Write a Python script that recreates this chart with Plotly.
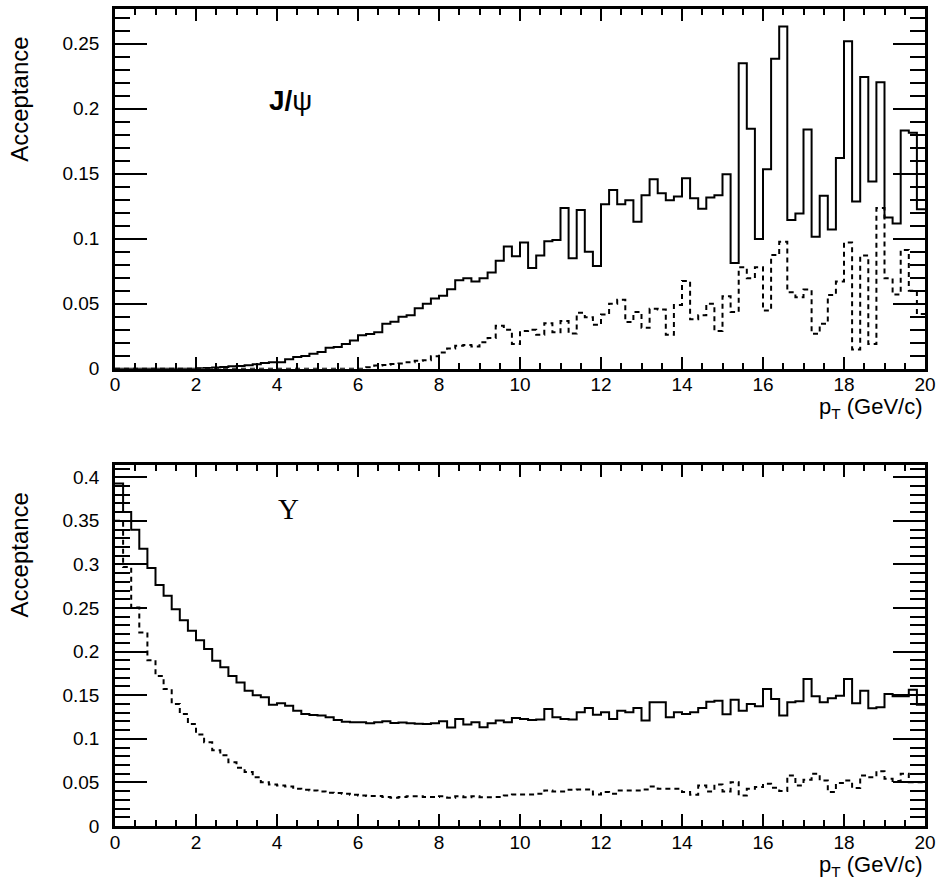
import numpy as np
import plotly.graph_objects as go

# ---------------- data ----------------
bin_low = 0.0
bin_high = 20.0
n_bins = 100

jpsi_solid = [
    0, 0, 0, 0, 0, 0, 0, 0, 0, 0,
    0.0003, 0.0005, 0.0008, 0.0013, 0.0018, 0.0020, 0.0026, 0.0033, 0.0043, 0.0050,
    0.0050, 0.0072, 0.0090, 0.0097, 0.0115, 0.0128, 0.0160, 0.0166, 0.0190, 0.0217,
    0.0256, 0.0266, 0.0280, 0.0345, 0.0360, 0.0400, 0.0410, 0.0465, 0.0500, 0.0540,
    0.0560, 0.0610, 0.0680, 0.0695, 0.0670, 0.0695, 0.0740, 0.0830, 0.0940, 0.0864,
    0.0970, 0.0775, 0.0870, 0.0980, 0.0990, 0.1235, 0.0850, 0.1220, 0.0900, 0.0790,
    0.1265, 0.1375, 0.1265, 0.1296, 0.1130, 0.1334, 0.1457, 0.1350, 0.1296, 0.1324,
    0.1465, 0.1310, 0.1230, 0.1316, 0.1334, 0.1495, 0.0813, 0.2350, 0.1846, 0.0997,
    0.1534, 0.2385, 0.2633, 0.1143, 0.1194, 0.1840, 0.1015, 0.1330, 0.1070, 0.1620,
    0.2518, 0.1286, 0.2244, 0.1440, 0.2203, 0.1163, 0.1117, 0.1833, 0.1815, 0.1227,
]

jpsi_dashed = [
    0, 0, 0, 0, 0, 0, 0, 0, 0, 0,
    0, 0, 0, 0, 0, 0, 0, 0, 0, 0,
    0, 0, 0, 0, 0, 0, 0, 0, 0, 0,
    0, 0.0010, 0.0025, 0.0028, 0.0035, 0.0040, 0.0050, 0.0060, 0.0065, 0.0095,
    0.0125, 0.0155, 0.0176, 0.0182, 0.0170, 0.0204, 0.0235, 0.0330, 0.0300, 0.0190,
    0.0290, 0.0300, 0.0260, 0.0350, 0.0280, 0.0366, 0.0270, 0.0430, 0.0396, 0.0337,
    0.0417, 0.0500, 0.0530, 0.0358, 0.0435, 0.0314, 0.0460, 0.0455, 0.0260, 0.0490,
    0.0675, 0.0380, 0.0410, 0.0500, 0.0290, 0.0557, 0.0435, 0.0780, 0.0695, 0.0780,
    0.0447, 0.0874, 0.0976, 0.0588, 0.0550, 0.0608, 0.0268, 0.0345, 0.0567, 0.0670,
    0.0970, 0.0148, 0.0870, 0.0190, 0.1235, 0.0695, 0.0570, 0.0913, 0.0600, 0.0420,
]

ups_solid = [
    0.3927, 0.3600, 0.3397, 0.3180, 0.2960, 0.2764, 0.2640, 0.2486, 0.2360, 0.2238,
    0.2130, 0.2030, 0.1895, 0.1820, 0.1720, 0.1647, 0.1550, 0.1500, 0.1476, 0.1390,
    0.1407, 0.1380, 0.1323, 0.1285, 0.1274, 0.1266, 0.1247, 0.1216, 0.1197, 0.1190,
    0.1190, 0.1178, 0.1190, 0.1200, 0.1180, 0.1186, 0.1178, 0.1174, 0.1170, 0.1178,
    0.1200, 0.1130, 0.1228, 0.1163, 0.1190, 0.1132, 0.1178, 0.1209, 0.1190, 0.1239,
    0.1228, 0.1216, 0.1220, 0.1342, 0.1247, 0.1228, 0.1220, 0.1304, 0.1354, 0.1277,
    0.1304, 0.1228, 0.1323, 0.1304, 0.1354, 0.1209, 0.1418, 0.1418, 0.1247, 0.1304,
    0.1285, 0.1304, 0.1354, 0.1426, 0.1437, 0.1281, 0.1449, 0.1323, 0.1399, 0.1373,
    0.1571, 0.1457, 0.1266, 0.1418, 0.1430, 0.1685, 0.1487, 0.1418, 0.1464, 0.1495,
    0.1685, 0.1407, 0.1552, 0.1350, 0.1361, 0.1514, 0.1487, 0.1487, 0.1563, 0.1392,
]

ups_dashed = [
    0.3500, 0.2970, 0.2505, 0.2220, 0.1900, 0.1720, 0.1570, 0.1400, 0.1285, 0.1170,
    0.1050, 0.0960, 0.0870, 0.0810, 0.0730, 0.0667, 0.0620, 0.0560, 0.0503, 0.0477,
    0.0465, 0.0454, 0.0427, 0.0416, 0.0408, 0.0397, 0.0380, 0.0377, 0.0370, 0.0358,
    0.0350, 0.0343, 0.0343, 0.0332, 0.0324, 0.0332, 0.0340, 0.0340, 0.0332, 0.0332,
    0.0340, 0.0324, 0.0340, 0.0330, 0.0340, 0.0330, 0.0330, 0.0332, 0.0350, 0.0360,
    0.0362, 0.0362, 0.0370, 0.0408, 0.0397, 0.0397, 0.0416, 0.0420, 0.0420, 0.0362,
    0.0389, 0.0370, 0.0408, 0.0408, 0.0408, 0.0420, 0.0454, 0.0427, 0.0427, 0.0427,
    0.0389, 0.0358, 0.0465, 0.0397, 0.0477, 0.0397, 0.0503, 0.0350, 0.0427, 0.0446,
    0.0484, 0.0439, 0.0400, 0.0580, 0.0465, 0.0530, 0.0599, 0.0522, 0.0389, 0.0492,
    0.0522, 0.0435, 0.0580, 0.0560, 0.0629, 0.0541, 0.0515, 0.0599, 0.0503, 0.0503,
]

x_ticks = [0, 2, 4, 6, 8, 10, 12, 14, 16, 18, 20]
top_y_max = 0.2767
bot_y_max = 0.4137

edges = np.linspace(bin_low, bin_high, n_bins + 1)


def step_trace(vals, dash, xa, ya):
    y = list(vals) + [vals[-1]]
    return go.Scatter(
        x=edges, y=y, mode="lines",
        line=dict(shape="hv", color="black", width=2, dash=dash),
        xaxis=xa, yaxis=ya, showlegend=False, hoverinfo="skip",
    )


fig = go.Figure()
fig.add_trace(step_trace(jpsi_solid, "solid", "x", "y"))
fig.add_trace(step_trace(jpsi_dashed, "5px,4px", "x", "y"))
fig.add_trace(step_trace(ups_solid, "solid", "x2", "y2"))
fig.add_trace(step_trace(ups_dashed, "5px,4px", "x2", "y2"))

FONT = "Liberation Sans, Arial, Helvetica, sans-serif"

xaxis_common = dict(
    range=[bin_low, bin_high], tickvals=x_ticks, ticks="inside", ticklen=12,
    tickwidth=2, tickcolor="black", showline=True, linewidth=2.5,
    linecolor="black", mirror="ticks", showgrid=False, zeroline=False,
    tickfont=dict(size=19, color="black", family=FONT),
    ticklabelstandoff=-3, ticklabeloverflow="allow",
    minor=dict(ticks="inside", dtick=0.5, ticklen=6, tickwidth=1.5,
               tickcolor="black", showgrid=False),
)

yaxis_common = dict(
    ticks="inside", ticklen=32, tickwidth=2, tickcolor="black",
    showline=True, linewidth=2.5, linecolor="black", mirror="ticks",
    showgrid=False, zeroline=False, dtick=0.05, tick0=0,
    tickfont=dict(size=19, color="black", family=FONT),
    ticklabelstandoff=9, ticklabeloverflow="allow",
    minor=dict(ticks="inside", dtick=0.01, ticklen=15, tickwidth=1.5,
               tickcolor="black", showgrid=False),
)

top_dom = [0.5598, 1.0]
bot_dom = [0.0, 0.4415]

fig.update_layout(
    width=942, height=880,
    margin=dict(l=115, r=14, t=6, b=54),
    paper_bgcolor="white", plot_bgcolor="white",
    font=dict(family=FONT, color="black"),
    xaxis=dict(xaxis_common, domain=[0, 1], anchor="y"),
    yaxis=dict(yaxis_common, domain=top_dom, range=[0, top_y_max], anchor="x"),
    xaxis2=dict(xaxis_common, domain=[0, 1], anchor="y2"),
    yaxis2=dict(yaxis_common, domain=bot_dom, range=[0, bot_y_max], anchor="x2"),
    annotations=[
        dict(text="Acceptance", textangle=-90, xref="x domain", yref="y domain",
             x=-0.118, y=0.928, xanchor="center", yanchor="top", showarrow=False,
             font=dict(size=24, family=FONT, color="black")),
        dict(text="Acceptance", textangle=-90, xref="x2 domain", yref="y2 domain",
             x=-0.118, y=0.93, xanchor="center", yanchor="top", showarrow=False,
             font=dict(size=24, family=FONT, color="black")),
        dict(text="p<sub>T</sub> (GeV/c)", xref="x domain", yref="y domain",
             x=1.0, y=-0.11, xanchor="right", yanchor="middle", showarrow=False,
             font=dict(size=22, family=FONT, color="black")),
        dict(text="p<sub>T</sub> (GeV/c)", xref="x2 domain", yref="y2 domain",
             x=1.0, y=-0.11, xanchor="right", yanchor="middle", showarrow=False,
             font=dict(size=22, family=FONT, color="black")),
        dict(text="<b>J/</b>ψ", xref="x domain", yref="y domain",
             x=0.2165, y=0.745, xanchor="center", yanchor="middle", showarrow=False,
             font=dict(size=28, family=FONT, color="black")),
        dict(text="Υ", xref="x2 domain", yref="y2 domain",
             x=0.2146, y=0.878, xanchor="center", yanchor="middle", showarrow=False,
             font=dict(size=29, family="Liberation Serif, Times New Roman, serif",
                       color="black")),
    ],
)

fig.write_html(
    "out.html",
    config={"displayModeBar": False},
    post_script="document.body.style.margin='0px';document.body.style.overflow='hidden';",
)
